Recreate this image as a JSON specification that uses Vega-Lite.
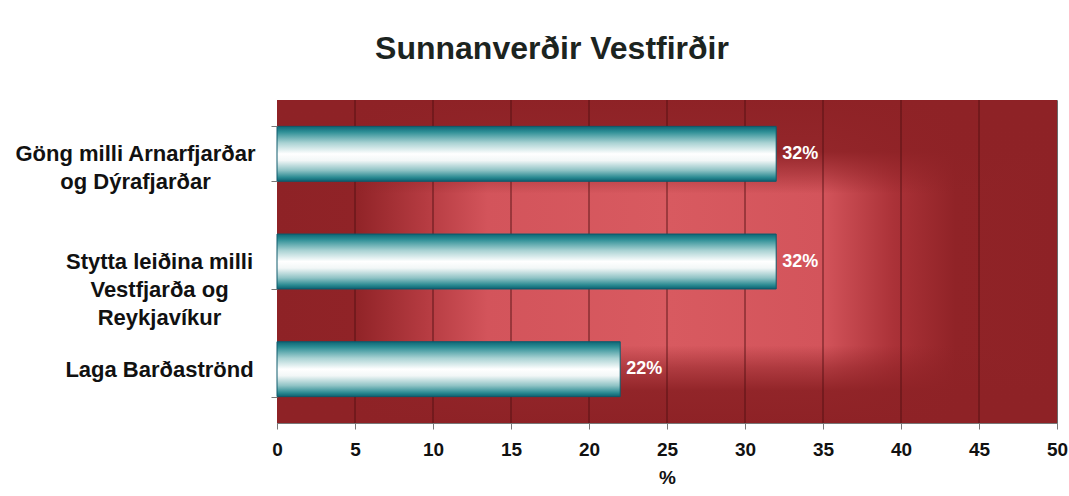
{
  "$schema": "https://vega.github.io/schema/vega-lite/v6.json",
  "autosize": "none",
  "width": 780,
  "height": 323,
  "padding": {"left": 277, "top": 100, "right": 12, "bottom": 73},
  "background": "white",
  "config": {
    "font": "Liberation Sans",
    "view": {"stroke": "#6a6a6a", "strokeWidth": 1}
  },
  "title": {
    "text": "Sunnanverðir Vestfirðir",
    "fontSize": 32,
    "fontWeight": "bold",
    "color": "#1c241f",
    "anchor": "middle",
    "frame": "group",
    "dx": -115,
    "offset": 23
  },
  "layer": [
    {
      "data": {"values": [{"start": 0, "end": 50}]},
      "mark": {
        "type": "rect",
        "fill": {
          "gradient": "linear",
          "x1": 0, "y1": 0, "x2": 1, "y2": 0,
          "stops": [
            {"offset": 0, "color": "#8e2226"},
            {"offset": 0.1, "color": "#902327"},
            {"offset": 0.19, "color": "#b53b41"},
            {"offset": 0.27, "color": "#d3545b"},
            {"offset": 0.5, "color": "#d85a60"},
            {"offset": 0.7, "color": "#d3545b"},
            {"offset": 0.79, "color": "#ab3238"},
            {"offset": 0.87, "color": "#902327"},
            {"offset": 1, "color": "#8e2226"}
          ]
        }
      },
      "encoding": {
        "x": {"field": "start", "type": "quantitative", "scale": {"domain": [0, 50]}},
        "x2": {"field": "end"}
      }
    },
    {
      "data": {"values": [{"start": 0, "end": 50}]},
      "mark": {
        "type": "rect",
        "fill": {
          "gradient": "linear",
          "x1": 0, "y1": 0, "x2": 0, "y2": 1,
          "stops": [
            {"offset": 0, "color": "rgba(142,34,38,1)"},
            {"offset": 0.16, "color": "rgba(142,34,38,0.92)"},
            {"offset": 0.23, "color": "rgba(142,34,38,0.45)"},
            {"offset": 0.29, "color": "rgba(142,34,38,0)"},
            {"offset": 0.76, "color": "rgba(142,34,38,0)"},
            {"offset": 0.83, "color": "rgba(142,34,38,0.55)"},
            {"offset": 0.9, "color": "rgba(142,34,38,0.95)"},
            {"offset": 1, "color": "rgba(142,34,38,1)"}
          ]
        }
      },
      "encoding": {
        "x": {"field": "start", "type": "quantitative"},
        "x2": {"field": "end"}
      }
    },
    {
      "data": {"values": [{"g": 5}, {"g": 10}, {"g": 15}, {"g": 20}, {"g": 25}, {"g": 30}, {"g": 35}, {"g": 40}, {"g": 45}]},
      "mark": {"type": "rule", "color": "#4e0f12", "strokeWidth": 1, "opacity": 0.85},
      "encoding": {"x": {"field": "g", "type": "quantitative"}}
    },
    {
      "data": {"name": "main", "values": [
        {"category": "Göng milli Arnarfjarðar og Dýrafjarðar", "value": 32},
        {"category": "Stytta leiðina milli Vestfjarða og Reykjavíkur", "value": 32},
        {"category": "Laga Barðaströnd", "value": 22}
      ]},
      "layer": [
        {
          "mark": {
            "type": "bar",
            "stroke": "#0e5a6c",
            "strokeWidth": 1,
            "fill": {
              "gradient": "linear",
              "x1": 0, "y1": 0, "x2": 0, "y2": 1,
              "stops": [
                {"offset": 0, "color": "#0d6675"},
                {"offset": 0.1, "color": "#2e8f96"},
                {"offset": 0.3, "color": "#a9d2d3"},
                {"offset": 0.5, "color": "#ffffff"},
                {"offset": 0.62, "color": "#f2f7f7"},
                {"offset": 0.8, "color": "#8fc3c5"},
                {"offset": 0.93, "color": "#2a8a92"},
                {"offset": 1, "color": "#0d6070"}
              ]
            }
          },
          "encoding": {
            "x": {
              "field": "value", "type": "quantitative",
              "scale": {"domain": [0, 50]},
              "axis": {
                "values": [0, 5, 10, 15, 20, 25, 30, 35, 40, 45, 50],
                "grid": false,
                "domainColor": "#777777",
                "tickColor": "#777777",
                "tickSize": 6,
                "labelFontSize": 19,
                "labelFontWeight": "bold",
                "labelColor": "#111111",
                "labelPadding": 11,
                "labelFlush": false,
                "title": "%",
                "titleFontSize": 19,
                "titleFontWeight": "bold",
                "titleColor": "#111111",
                "titlePadding": 9
              }
            },
            "y": {
              "field": "category", "type": "nominal", "sort": null,
              "scale": {"paddingInner": 0.49, "paddingOuter": 0.245},
              "axis": {
                "title": null,
                "zindex": 1,
                "tickBand": "extent",
                "tickSize": 6,
                "tickColor": "#777777",
                "domain": false,
                "labelAlign": "center",
                "labelBaseline": "middle",
                "labelFontSize": 22,
                "labelFontWeight": "bold",
                "labelColor": "#111111",
                "labelLineHeight": 28,
                "labelPadding": {"condition": {"test": "datum.value == 'Göng milli Arnarfjarðar og Dýrafjarðar'", "value": 136}, "value": 112},
                "labelLimit": 400,
                "labelExpr": "datum.value == 'Göng milli Arnarfjarðar og Dýrafjarðar' ? ['Göng milli Arnarfjarðar', 'og Dýrafjarðar'] : datum.value == 'Stytta leiðina milli Vestfjarða og Reykjavíkur' ? ['Stytta leiðina milli', 'Vestfjarða og', 'Reykjavíkur'] : datum.value"
              }
            }
          }
        },
        {
          "transform": [{"calculate": "datum.value + '%'", "as": "label"}],
          "mark": {"type": "text", "align": "left", "baseline": "middle", "dx": 6, "fontSize": 18, "fontWeight": "bold", "color": "#ffffff"},
          "encoding": {
            "x": {"field": "value", "type": "quantitative"},
            "y": {"field": "category", "type": "nominal", "sort": null},
            "text": {"field": "label"}
          }
        }
      ]
    }
  ]
}
